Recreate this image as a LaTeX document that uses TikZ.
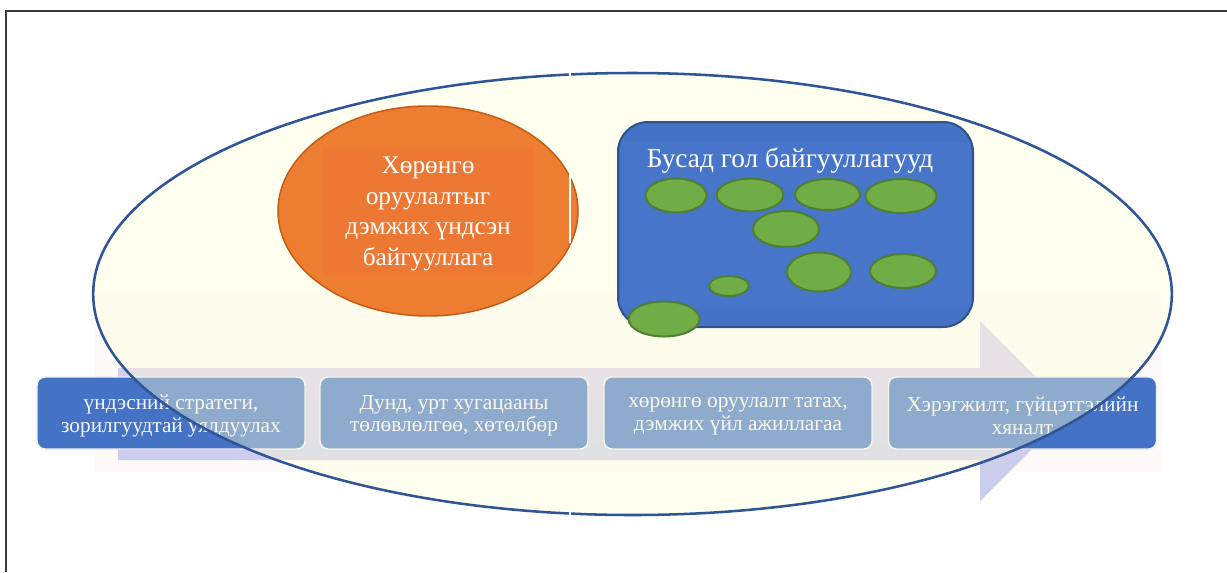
\documentclass[tikz,border=0pt]{standalone}
\usepackage{fontspec}
\setmainfont{Liberation Serif}
\usetikzlibrary{shapes.geometric}
\definecolor{boxblue}{RGB}{68,114,196}
\definecolor{ellblue}{RGB}{47,85,151}
\definecolor{ivory}{RGB}{255,255,217}
\definecolor{orfill}{RGB}{237,125,49}
\definecolor{orin}{RGB}{236,120,52}
\definecolor{ordraw}{RGB}{197,90,17}
\definecolor{rectdraw}{RGB}{47,82,143}
\definecolor{rectin}{RGB}{70,117,201}
\definecolor{grfill}{RGB}{112,173,71}
\definecolor{grdraw}{RGB}{80,126,50}
\definecolor{arrtop}{RGB}{220,205,238}
\definecolor{arrbot}{RGB}{200,205,236}
\definecolor{pinkbg}{RGB}{254,250,249}
\definecolor{framegray}{RGB}{58,58,58}
\definecolor{boxedge}{RGB}{240,240,245}
\definecolor{boxtext}{RGB}{245,245,248}
\tikzset{
  stepbox/.style={rectangle, rounded corners=6pt, draw=boxedge, line width=1.1pt,
    fill=boxblue, minimum width=201pt, minimum height=54pt, inner sep=0pt},
  steptext/.style={text=boxtext, font=\fontsize{16}{17}\selectfont, align=center, inner sep=0pt},
  leaf/.style={ellipse, draw=grdraw, fill=grfill, line width=1.5pt, inner sep=0pt},
  artifact/.style={white, line width=1.2pt}
}
\begin{document}
\begin{tikzpicture}[x=0.75pt,y=-0.75pt]
\useasboundingbox (0,0) rectangle (1227,572);
\fill[white] (0,0) rectangle (1227,572);

% faint picture background
\fill[pinkbg] (95,293) rectangle (1162,472);
% big process arrow
\shade[top color=arrtop, bottom color=arrbot]
  (118,368) -- (980,368) -- (980,321) -- (1070,411) -- (980,501) -- (980,460) -- (118,460) -- cycle;

% process steps
\node[stepbox] (b1) at (171,413) {};
\node[stepbox] (b2) at (454,413) {};
\node[stepbox] (b3) at (738,413) {};
\node[stepbox] (b4) at (1022.5,413) {};
\node[steptext] (t1) at ([yshift=-2.2pt]b1.center) {үндэсний стратеги,\\зорилгуудтай уялдуулах};
\node[steptext] (t2) at ([yshift=-2.2pt]b2.center) {Дунд, урт хугацааны\\төлөвлөлгөө, хөтөлбөр};
\node[steptext] (t3) at ([yshift=-2.2pt]b3.center) {хөрөнгө оруулалт татах,\\дэмжих үйл ажиллагаа};
\node[steptext] (t4) at ([yshift=-2.2pt]b4.center) {Хэрэгжилт, гүйцэтгэлийн\\хяналт};

% big ellipse overlay
\node[ellipse, draw=ellblue, line width=1.9pt, fill=ivory, fill opacity=0.4,
  minimum width=809pt, minimum height=331.5pt, inner sep=0pt] (big) at (632.5,294) {};
\draw[artifact] (570,69) -- (570,78);
\draw[artifact] (570,510) -- (570,519);

% core organisation
\node[ellipse, draw=ordraw, fill=orfill, line width=1.1pt,
  minimum width=225pt, minimum height=157.5pt, inner sep=0pt] (core) at (428,211) {};
\fill[orin] (323,147) rectangle (533,275);
\node[text=white, font=\fontsize{19}{23}\selectfont, align=center] (coretext) at (428,214)
  {Хөрөнгө\\оруулалтыг\\дэмжих үндсэн\\байгууллага};
\draw[artifact] (570,173) -- (570,243);

% other organisations
\node[rectangle, rounded corners=22.5pt, draw=rectdraw, fill=boxblue, line width=1.5pt,
  minimum width=266.25pt, minimum height=153.75pt, inner sep=0pt] (others) at (795.5,224.5) {};
\fill[rectin] (621,142) rectangle (970,307);
\node[text=white, font=\fontsize{20.5}{24}\selectfont] (otherslabel) at (790,161) {Бусад гол байгууллагууд};

\node[leaf, minimum width=45.75pt, minimum height=25.5pt] (g1) at (676,195.5) {};
\node[leaf, minimum width=50pt, minimum height=24.5pt] (g2) at (750,195) {};
\node[leaf, minimum width=48.75pt, minimum height=23.25pt] (g3) at (827.5,194.5) {};
\node[leaf, minimum width=53.25pt, minimum height=25.5pt] (g4) at (901,196) {};
\node[leaf, minimum width=49.5pt, minimum height=27pt] (g5) at (786,229) {};
\node[leaf, minimum width=48pt, minimum height=29.25pt] (g6) at (819,272) {};
\node[leaf, minimum width=49.5pt, minimum height=25.5pt] (g7) at (903,271) {};
\node[leaf, minimum width=30pt, minimum height=15pt] (g8) at (729,286) {};
\node[leaf, minimum width=53.25pt, minimum height=26.25pt] (g9) at (664,319) {};

% frame
\draw[framegray, line width=1.1pt] (6,572) -- (6,11) -- (1227,11);
\end{tikzpicture}
\end{document}
